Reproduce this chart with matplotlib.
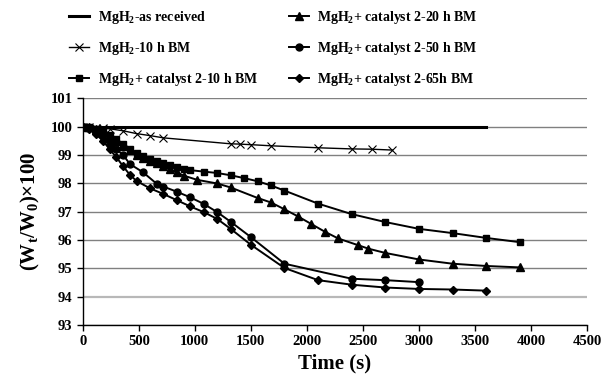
import numpy as np
import matplotlib
matplotlib.use("Agg")
import matplotlib.pyplot as plt

# time (s) and (Wt/W0)x100
t_received = [0, 3600]
w_received = [100, 100]

t_10h = [0, 60, 120, 180, 240, 360, 480, 600, 720, 1320, 1400, 1500, 1680, 2100, 2400, 2580, 2760]
w_10h = [100, 99.98, 99.96, 99.94, 99.92, 99.85, 99.75, 99.68, 99.6, 99.39, 99.38, 99.36, 99.32,
         99.25, 99.21, 99.2, 99.17]

t_cat10 = [0, 60, 120, 180, 240, 300, 360, 420, 480, 540, 600, 660, 720, 780, 840, 900, 960,
           1080, 1200, 1320, 1440, 1560, 1680, 1800, 2100, 2400, 2700, 3000, 3300, 3600, 3900]
w_cat10 = [100, 99.97, 99.92, 99.83, 99.7, 99.55, 99.4, 99.22, 99.05, 98.97, 98.87, 98.79, 98.71,
           98.63, 98.57, 98.51, 98.46, 98.41, 98.36, 98.28, 98.18, 98.07, 97.92, 97.74, 97.28,
           96.91, 96.63, 96.39, 96.24, 96.07, 95.92]

t_cat20 = [0, 60, 120, 180, 240, 300, 360, 420, 480, 540, 600, 660, 720, 780, 840, 900, 1020,
           1200, 1320, 1560, 1680, 1800, 1920, 2040, 2160, 2280, 2460, 2550, 2700, 3000, 3300,
           3600, 3900]
w_cat20 = [100, 99.97, 99.9, 99.8, 99.65, 99.48, 99.32, 99.18, 99.0, 98.88, 98.79, 98.72, 98.62,
           98.5, 98.38, 98.27, 98.12, 97.99, 97.85, 97.48, 97.32, 97.08, 96.83, 96.56, 96.29,
           96.05, 95.81, 95.69, 95.54, 95.31, 95.16, 95.08, 95.03]

t_cat50 = [0, 60, 120, 180, 240, 300, 360, 420, 540, 660, 720, 840, 960, 1080, 1200, 1320, 1500,
           1800, 2400, 2700, 3000]
w_cat50 = [100, 99.95, 99.85, 99.65, 99.42, 99.2, 99.0, 98.68, 98.38, 97.98, 97.88, 97.7, 97.5,
           97.27, 96.98, 96.64, 96.1, 95.16, 94.63, 94.58, 94.51]

t_cat65 = [0, 60, 120, 180, 240, 300, 360, 420, 480, 600, 720, 840, 960, 1080, 1200, 1320, 1500,
           1800, 2100, 2400, 2700, 3000, 3300, 3600]
w_cat65 = [100, 99.9, 99.72, 99.5, 99.2, 98.92, 98.6, 98.3, 98.08, 97.82, 97.62, 97.4, 97.18,
           96.98, 96.74, 96.39, 95.83, 95.01, 94.58, 94.42, 94.32, 94.27, 94.25, 94.21]

labels = [r"MgH$_2$-as received", r"MgH$_2$-10 h BM", r"MgH$_2$+ catalyst 2-10 h BM",
          r"MgH$_2$+ catalyst 2-20 h BM", r"MgH$_2$+ catalyst 2-50 h BM",
          r"MgH$_2$+ catalyst 2-65h BM"]

plt.rcParams["font.family"] = ["Liberation Serif", "DejaVu Serif"]
plt.rcParams["font.weight"] = "bold"
plt.rcParams["mathtext.fontset"] = "custom"
plt.rcParams["mathtext.rm"] = "Liberation Serif:bold"
plt.rcParams["mathtext.it"] = "Liberation Serif:bold"
plt.rcParams["mathtext.bf"] = "Liberation Serif:bold"

fig = plt.figure(figsize=(6.15, 3.85), dpi=100)
ax = fig.add_axes([0.1345, 0.156, 0.82, 0.589])

ax.plot(t_received, w_received, color="black", lw=2.2, label=labels[0])
ax.plot(t_10h, w_10h, color="black", lw=1.0, marker="x", ms=6, mew=0.8, label=labels[1])
ax.plot(t_cat10, w_cat10, color="black", lw=1.4, marker="s", ms=5, label=labels[2])
ax.plot(t_cat20, w_cat20, color="black", lw=1.4, marker="^", ms=5.5, label=labels[3])
ax.plot(t_cat50, w_cat50, color="black", lw=1.4, marker="o", ms=5, label=labels[4])
ax.plot(t_cat65, w_cat65, color="black", lw=1.4, marker="D", ms=4.5, label=labels[5])

ax.set_xlim(0, 4500)
ax.set_ylim(93, 101)
ax.set_xticks(np.arange(0, 4501, 500))
ax.set_yticks(np.arange(93, 102, 1))
ax.yaxis.grid(True, color="#808080", lw=1.0)
ax.set_axisbelow(True)
for line, val in zip(ax.get_ygridlines(), ax.get_yticks()):
    if val == 94:
        line.set_color("#b8b8b8")
        line.set_linewidth(1.6)
for s in ["top", "right"]:
    ax.spines[s].set_visible(False)
ax.spines["left"].set_linewidth(1.0)
ax.spines["bottom"].set_linewidth(1.0)
ax.tick_params(axis="both", direction="out", length=4, width=1, labelsize=10.5)
for lab in ax.get_xticklabels() + ax.get_yticklabels():
    lab.set_fontweight("bold")

ax.set_xlabel("Time (s)", fontsize=15, fontweight="bold", labelpad=4)
ax.set_ylabel(r"(W$_t$/W$_0$)×100", fontsize=15, fontweight="bold", labelpad=6)

handles, labs = ax.get_legend_handles_labels()
fig.legend(handles, labs, ncol=2,
           loc="upper left", bbox_to_anchor=(0.092, 1.01), frameon=False,
           prop={"size": 10, "weight": "bold"}, handlelength=1.45,
           columnspacing=2.2, labelspacing=1.03, handletextpad=0.6)

fig.savefig("out.png", dpi=100)
